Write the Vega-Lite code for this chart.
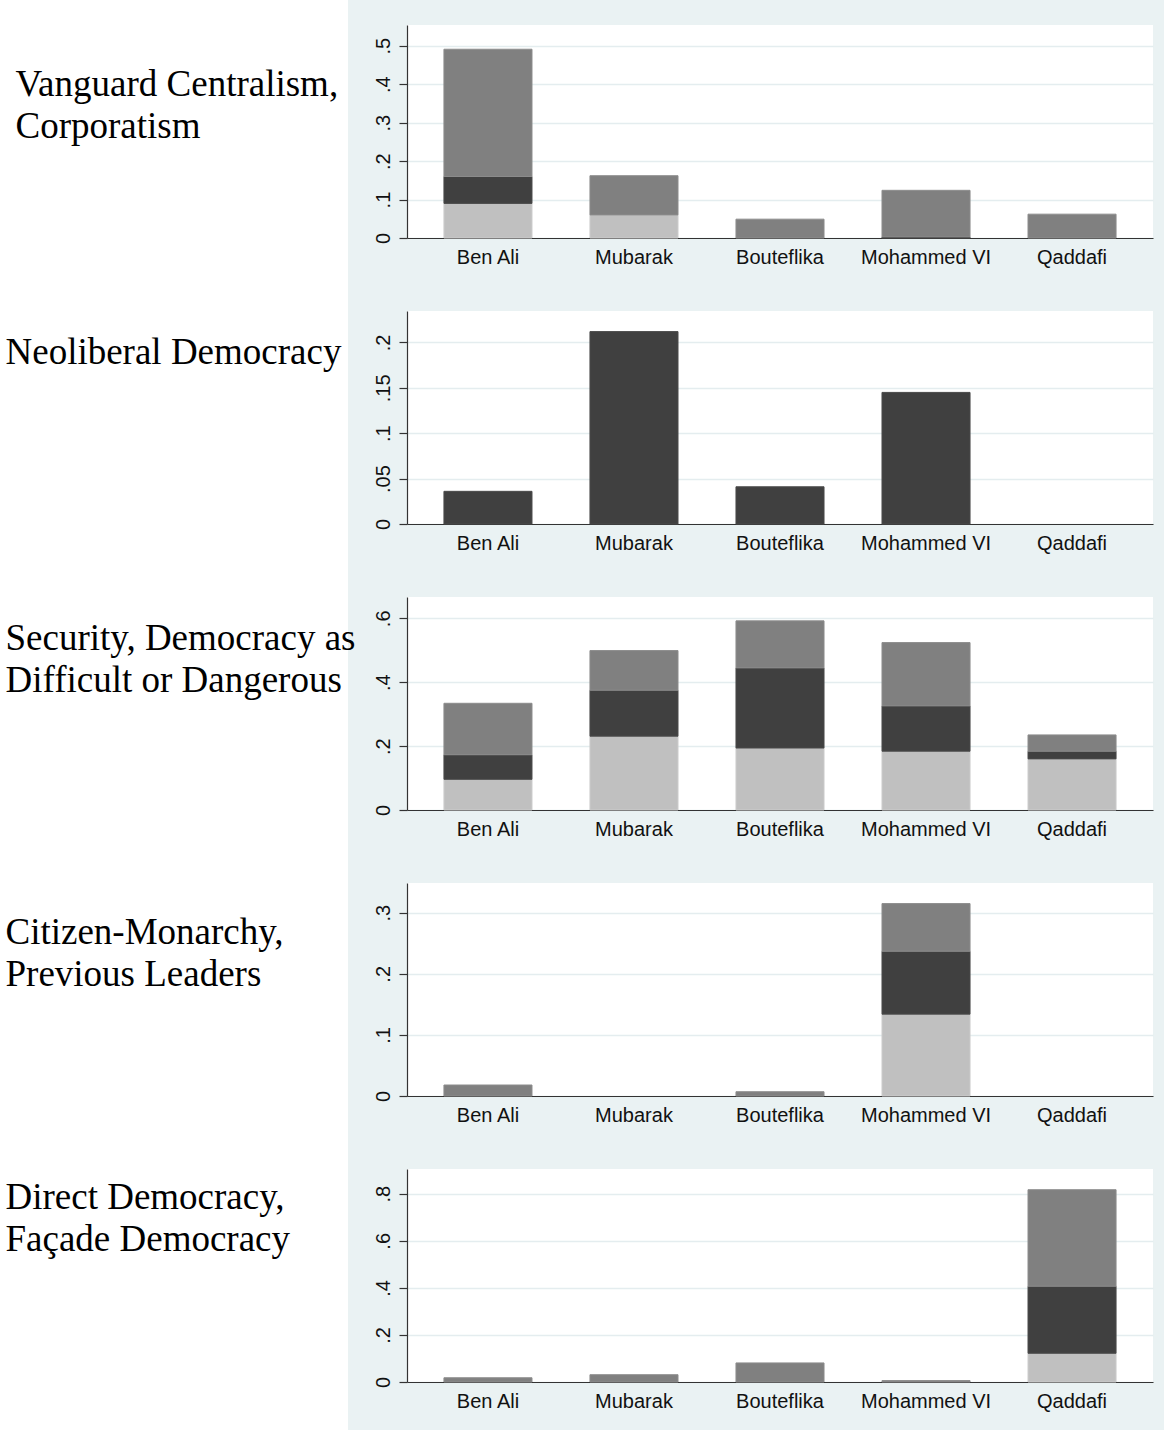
{
  "$schema": "https://vega.github.io/schema/vega-lite/v6.json",
  "background": "#eaf2f3",
  "padding": {"left": 0, "top": 0, "right": 11, "bottom": 0},
  "data": {
    "values": [
      {"panel": 1, "leader": "Ben Ali", "part": "lower", "share": 0.090},
      {"panel": 1, "leader": "Ben Ali", "part": "middle", "share": 0.070},
      {"panel": 1, "leader": "Ben Ali", "part": "upper", "share": 0.331},
      {"panel": 1, "leader": "Mubarak", "part": "lower", "share": 0.060},
      {"panel": 1, "leader": "Mubarak", "part": "upper", "share": 0.102},
      {"panel": 1, "leader": "Bouteflika", "part": "upper", "share": 0.049},
      {"panel": 1, "leader": "Mohammed VI", "part": "middle", "share": 0.003},
      {"panel": 1, "leader": "Mohammed VI", "part": "upper", "share": 0.121},
      {"panel": 1, "leader": "Qaddafi", "part": "upper", "share": 0.062},

      {"panel": 2, "leader": "Ben Ali", "part": "middle", "share": 0.036},
      {"panel": 2, "leader": "Mubarak", "part": "middle", "share": 0.212},
      {"panel": 2, "leader": "Bouteflika", "part": "middle", "share": 0.041},
      {"panel": 2, "leader": "Mohammed VI", "part": "middle", "share": 0.145},

      {"panel": 3, "leader": "Ben Ali", "part": "lower", "share": 0.096},
      {"panel": 3, "leader": "Ben Ali", "part": "middle", "share": 0.077},
      {"panel": 3, "leader": "Ben Ali", "part": "upper", "share": 0.161},
      {"panel": 3, "leader": "Mubarak", "part": "lower", "share": 0.231},
      {"panel": 3, "leader": "Mubarak", "part": "middle", "share": 0.144},
      {"panel": 3, "leader": "Mubarak", "part": "upper", "share": 0.124},
      {"panel": 3, "leader": "Bouteflika", "part": "lower", "share": 0.194},
      {"panel": 3, "leader": "Bouteflika", "part": "middle", "share": 0.251},
      {"panel": 3, "leader": "Bouteflika", "part": "upper", "share": 0.147},
      {"panel": 3, "leader": "Mohammed VI", "part": "lower", "share": 0.184},
      {"panel": 3, "leader": "Mohammed VI", "part": "middle", "share": 0.142},
      {"panel": 3, "leader": "Mohammed VI", "part": "upper", "share": 0.198},
      {"panel": 3, "leader": "Qaddafi", "part": "lower", "share": 0.160},
      {"panel": 3, "leader": "Qaddafi", "part": "middle", "share": 0.024},
      {"panel": 3, "leader": "Qaddafi", "part": "upper", "share": 0.051},

      {"panel": 4, "leader": "Ben Ali", "part": "upper", "share": 0.018},
      {"panel": 4, "leader": "Bouteflika", "part": "upper", "share": 0.007},
      {"panel": 4, "leader": "Mohammed VI", "part": "lower", "share": 0.134},
      {"panel": 4, "leader": "Mohammed VI", "part": "middle", "share": 0.103},
      {"panel": 4, "leader": "Mohammed VI", "part": "upper", "share": 0.078},

      {"panel": 5, "leader": "Ben Ali", "part": "upper", "share": 0.018},
      {"panel": 5, "leader": "Mubarak", "part": "upper", "share": 0.031},
      {"panel": 5, "leader": "Bouteflika", "part": "upper", "share": 0.081},
      {"panel": 5, "leader": "Mohammed VI", "part": "upper", "share": 0.006},
      {"panel": 5, "leader": "Qaddafi", "part": "lower", "share": 0.122},
      {"panel": 5, "leader": "Qaddafi", "part": "middle", "share": 0.285},
      {"panel": 5, "leader": "Qaddafi", "part": "upper", "share": 0.410}
    ]
  },
  "columns": 2,
  "spacing": {"row": 0, "column": 59},
  "bounds": "flush",
  "align": "each",
  "concat": [
    {"width": 348, "height": 25, "data": {"values": []}, "mark": "point", "view": {"fill": "#ffffff"}},
    {"width": 746, "height": 25, "data": {"values": []}, "mark": "point"},

    {"width": 348, "height": 286, "data": {"values": []}, "mark": "point", "view": {"fill": "#ffffff"}},
    {
      "width": 746, "height": 213,
      "view": {"fill": "#ffffff"},
      "transform": [{"filter": "datum.panel == 1"}],
      "mark": {"type": "bar", "strokeWidth": 1},
      "encoding": {
        "x": {"field": "leader", "type": "nominal",
              "scale": {"domain": ["Ben Ali", "Mubarak", "Bouteflika", "Mohammed VI", "Qaddafi"], "paddingInner": 0.397, "paddingOuter": 0.253},
              "axis": {"title": null}},
        "y": {"field": "share", "type": "quantitative", "stack": "zero",
              "scale": {"domain": [0, 0.554], "nice": false},
              "axis": {"values": [0, 0.1, 0.2, 0.3, 0.4, 0.5],
                       "labelExpr": "datum.value == 0 ? '0' : replace(format(datum.value, '.2~f'), '0.', '.')",
                       "title": ["Vanguard Centralism,", "Corporatism"], "titleX": -392, "titleY": 70}},
        "color": {"field": "part", "type": "nominal", "scale": {"domain": ["lower", "middle", "upper"], "range": ["#c0c0c0", "#404040", "#808080"]}, "legend": null},
        "stroke": {"field": "part", "type": "nominal", "scale": {"domain": ["lower", "middle", "upper"], "range": ["#cccccc", "#4a4a4a", "#8c8c8c"]}, "legend": null},
        "order": {"field": "part", "type": "nominal", "sort": "ascending"}
      }
    },

    {"width": 348, "height": 286, "data": {"values": []}, "mark": "point", "view": {"fill": "#ffffff"}},
    {
      "width": 746, "height": 213,
      "view": {"fill": "#ffffff"},
      "transform": [{"filter": "datum.panel == 2"}],
      "mark": {"type": "bar", "strokeWidth": 1},
      "encoding": {
        "x": {"field": "leader", "type": "nominal",
              "scale": {"domain": ["Ben Ali", "Mubarak", "Bouteflika", "Mohammed VI", "Qaddafi"], "paddingInner": 0.397, "paddingOuter": 0.253},
              "axis": {"title": null}},
        "y": {"field": "share", "type": "quantitative", "stack": "zero",
              "scale": {"domain": [0, 0.2347], "nice": false},
              "axis": {"values": [0, 0.05, 0.1, 0.15, 0.2],
                       "labelExpr": "datum.value == 0 ? '0' : replace(format(datum.value, '.2~f'), '0.', '.')",
                       "title": "Neoliberal Democracy", "titleX": -402, "titleY": 52}},
        "color": {"field": "part", "type": "nominal", "scale": {"domain": ["lower", "middle", "upper"], "range": ["#c0c0c0", "#404040", "#808080"]}, "legend": null},
        "stroke": {"field": "part", "type": "nominal", "scale": {"domain": ["lower", "middle", "upper"], "range": ["#cccccc", "#4a4a4a", "#8c8c8c"]}, "legend": null},
        "order": {"field": "part", "type": "nominal", "sort": "ascending"}
      }
    },

    {"width": 348, "height": 286, "data": {"values": []}, "mark": "point", "view": {"fill": "#ffffff"}},
    {
      "width": 746, "height": 213,
      "view": {"fill": "#ffffff"},
      "transform": [{"filter": "datum.panel == 3"}],
      "mark": {"type": "bar", "strokeWidth": 1},
      "encoding": {
        "x": {"field": "leader", "type": "nominal",
              "scale": {"domain": ["Ben Ali", "Mubarak", "Bouteflika", "Mohammed VI", "Qaddafi"], "paddingInner": 0.397, "paddingOuter": 0.253},
              "axis": {"title": null}},
        "y": {"field": "share", "type": "quantitative", "stack": "zero",
              "scale": {"domain": [0, 0.6667], "nice": false},
              "axis": {"values": [0, 0.2, 0.4, 0.6],
                       "labelExpr": "datum.value == 0 ? '0' : replace(format(datum.value, '.2~f'), '0.', '.')",
                       "title": ["Security, Democracy as", "Difficult or Dangerous"], "titleX": -402, "titleY": 52}},
        "color": {"field": "part", "type": "nominal", "scale": {"domain": ["lower", "middle", "upper"], "range": ["#c0c0c0", "#404040", "#808080"]}, "legend": null},
        "stroke": {"field": "part", "type": "nominal", "scale": {"domain": ["lower", "middle", "upper"], "range": ["#cccccc", "#4a4a4a", "#8c8c8c"]}, "legend": null},
        "order": {"field": "part", "type": "nominal", "sort": "ascending"}
      }
    },

    {"width": 348, "height": 286, "data": {"values": []}, "mark": "point", "view": {"fill": "#ffffff"}},
    {
      "width": 746, "height": 213,
      "view": {"fill": "#ffffff"},
      "transform": [{"filter": "datum.panel == 4"}],
      "mark": {"type": "bar", "strokeWidth": 1},
      "encoding": {
        "x": {"field": "leader", "type": "nominal",
              "scale": {"domain": ["Ben Ali", "Mubarak", "Bouteflika", "Mohammed VI", "Qaddafi"], "paddingInner": 0.397, "paddingOuter": 0.253},
              "axis": {"title": null}},
        "y": {"field": "share", "type": "quantitative", "stack": "zero",
              "scale": {"domain": [0, 0.3487], "nice": false},
              "axis": {"values": [0, 0.1, 0.2, 0.3],
                       "labelExpr": "datum.value == 0 ? '0' : replace(format(datum.value, '.2~f'), '0.', '.')",
                       "title": ["Citizen-Monarchy,", "Previous Leaders"], "titleX": -402, "titleY": 60}},
        "color": {"field": "part", "type": "nominal", "scale": {"domain": ["lower", "middle", "upper"], "range": ["#c0c0c0", "#404040", "#808080"]}, "legend": null},
        "stroke": {"field": "part", "type": "nominal", "scale": {"domain": ["lower", "middle", "upper"], "range": ["#cccccc", "#4a4a4a", "#8c8c8c"]}, "legend": null},
        "order": {"field": "part", "type": "nominal", "sort": "ascending"}
      }
    },

    {"width": 348, "height": 261, "data": {"values": []}, "mark": "point", "view": {"fill": "#ffffff"}},
    {
      "width": 746, "height": 213,
      "view": {"fill": "#ffffff"},
      "transform": [{"filter": "datum.panel == 5"}],
      "mark": {"type": "bar", "strokeWidth": 1},
      "encoding": {
        "x": {"field": "leader", "type": "nominal",
              "scale": {"domain": ["Ben Ali", "Mubarak", "Bouteflika", "Mohammed VI", "Qaddafi"], "paddingInner": 0.397, "paddingOuter": 0.253},
              "axis": {"title": null}},
        "y": {"field": "share", "type": "quantitative", "stack": "zero",
              "scale": {"domain": [0, 0.905], "nice": false},
              "axis": {"values": [0, 0.2, 0.4, 0.6, 0.8],
                       "labelExpr": "datum.value == 0 ? '0' : replace(format(datum.value, '.2~f'), '0.', '.')",
                       "title": ["Direct Democracy,", "Façade Democracy"], "titleX": -402, "titleY": 39}},
        "color": {"field": "part", "type": "nominal", "scale": {"domain": ["lower", "middle", "upper"], "range": ["#c0c0c0", "#404040", "#808080"]}, "legend": null},
        "stroke": {"field": "part", "type": "nominal", "scale": {"domain": ["lower", "middle", "upper"], "range": ["#cccccc", "#4a4a4a", "#8c8c8c"]}, "legend": null},
        "order": {"field": "part", "type": "nominal", "sort": "ascending"}
      }
    }
  ],
  "config": {
    "view": {"stroke": null},
    "axisX": {
      "labelAngle": 0,
      "labelFont": "Liberation Sans",
      "labelFontSize": 20,
      "labelColor": "#111111",
      "labelPadding": 9,
      "ticks": false,
      "tickSize": 0,
      "grid": false,
      "domainColor": "#333333",
      "domainWidth": 1.2,
      "zindex": 1
    },
    "axisY": {
      "labelAngle": -90,
      "labelAlign": "center",
      "labelBaseline": "alphabetic",
      "labelFlush": false,
      "labelOverlap": false,
      "labelPadding": 10,
      "labelFont": "Liberation Sans",
      "labelFontSize": 20,
      "labelColor": "#111111",
      "tickSize": 8,
      "tickColor": "#333333",
      "tickWidth": 1.2,
      "domainColor": "#333333",
      "domainWidth": 1.2,
      "grid": true,
      "gridColor": "#e4edef",
      "gridWidth": 1.6,
      "titleFont": "Liberation Serif",
      "titleFontSize": 37,
      "titleFontWeight": "normal",
      "titleColor": "#000000",
      "titleAngle": 0,
      "titleAlign": "left",
      "titleBaseline": "alphabetic",
      "titleLineHeight": 42,
      "titleLimit": 1000
    }
  }
}
